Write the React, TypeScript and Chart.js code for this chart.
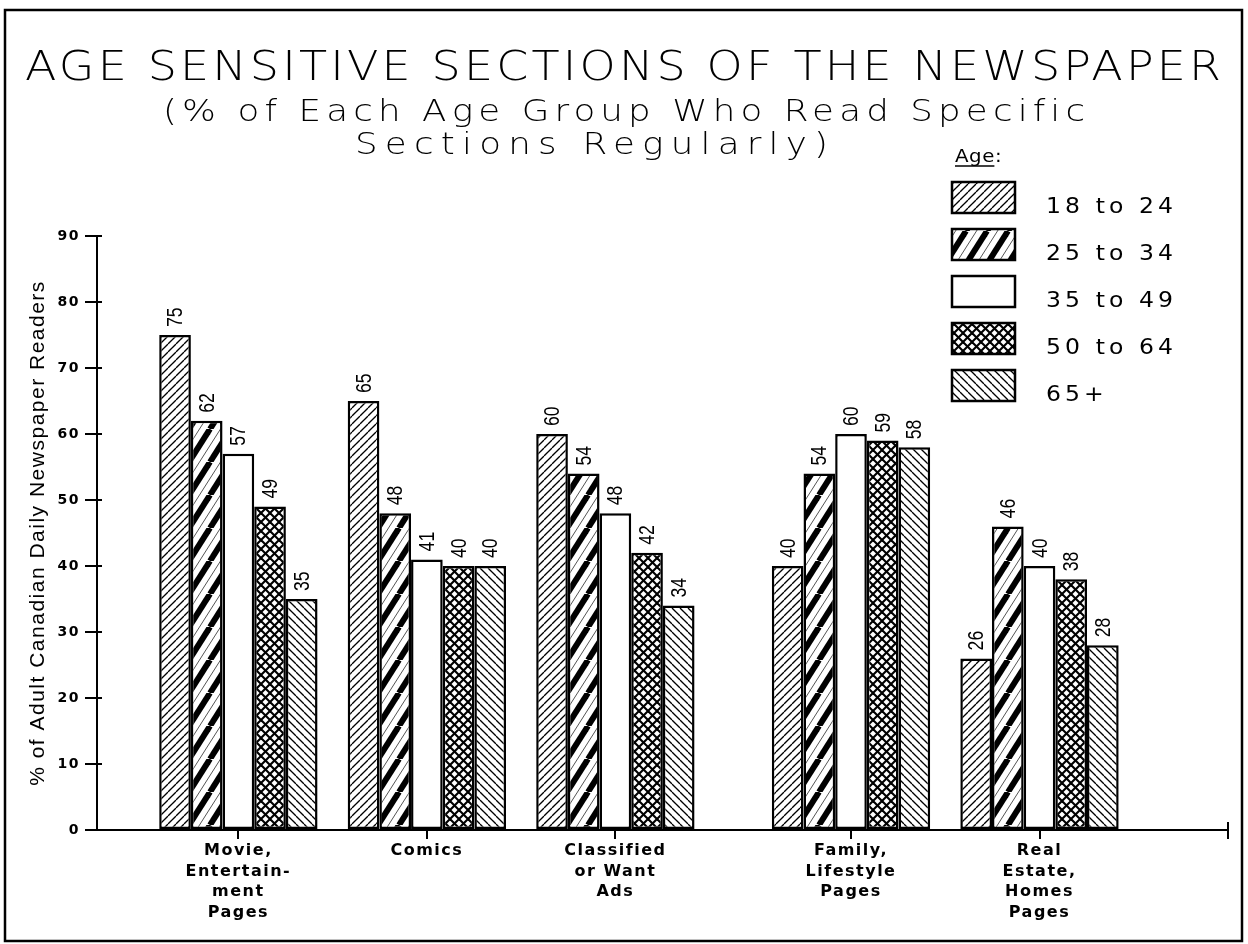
import React, { useEffect, useRef } from "react";
import { Chart, registerables } from "chart.js";

Chart.register(...registerables);

// ---------- data ----------
const categories: string[][] = [
  ["Movie,", "Entertain-", "ment", "Pages"],
  ["Comics"],
  ["Classified", "or Want", "Ads"],
  ["Family,", "Lifestyle", "Pages"],
  ["Real", "Estate,", "Homes", "Pages"],
];
const categoryPositions = [0.75, 1.75, 2.75, 4, 5];
const xAxisMax = 6;

const ageGroups = ["18 to 24", "25 to 34", "35 to 49", "50 to 64", "65+"];
const age18to24 = [75, 65, 60, 40, 26];
const age25to34 = [62, 48, 54, 54, 46];
const age35to49 = [57, 41, 48, 60, 40];
const age50to64 = [49, 40, 42, 59, 38];
const age65plus = [35, 40, 34, 58, 28];

const yMin = 0;
const yMax = 90;
const yStep = 10;

const titleText = "AGE SENSITIVE SECTIONS OF THE NEWSPAPER";
const subtitleLines = ["(% of Each Age Group Who Read Specific", "Sections Regularly)"];
const yAxisTitle = "% of Adult Canadian Daily Newspaper Readers";
const legendTitle = "Age:";

// ---------- patterns ----------
function makeTile(w: number, h: number, draw: (g: CanvasRenderingContext2D, w: number, h: number) => void) {
  const c = document.createElement("canvas");
  c.width = w;
  c.height = h;
  const g = c.getContext("2d")!;
  g.fillStyle = "#fff";
  g.fillRect(0, 0, w, h);
  draw(g, w, h);
  return g.createPattern(c, "repeat")!;
}

function diag(g: CanvasRenderingContext2D, w: number, h: number, lw: number, rising: boolean, color = "#000", off = 0) {
  g.strokeStyle = color;
  g.lineWidth = lw;
  for (let k = -1; k <= 1; k++) {
    g.beginPath();
    if (rising) {
      g.moveTo(k * w + off, h);
      g.lineTo(k * w + off + w, 0);
    } else {
      g.moveTo(k * w + off, 0);
      g.lineTo(k * w + off + w, h);
    }
    g.stroke();
  }
}

function makePatterns() {
  const p1 = makeTile(8, 8, (g, w, h) => diag(g, w, h, 1.3, true));
  const p2 = makeTile(21, 33, (g, w, h) => {
    diag(g, w, h, 6, true);
    diag(g, w, h, 1, true, "#555", w / 2);
  });
  const p3 = "#ffffff";
  const p4 = makeTile(9, 9, (g, w, h) => {
    diag(g, w, h, 2.1, true);
    diag(g, w, h, 2.1, false);
  });
  const p5 = makeTile(8, 8, (g, w, h) => diag(g, w, h, 1.3, false));
  return [p1, p2, p3, p4, p5];
}

// ---------- helpers ----------
function drawFitted(
  ctx: CanvasRenderingContext2D,
  text: string,
  cx: number,
  baseline: number,
  targetWidth: number,
  sx: number
) {
  (ctx as any).letterSpacing = "0px";
  const w = ctx.measureText(text).width;
  const n = text.length;
  const ls = n > 1 ? (targetWidth / sx - w) / (n - 1) : 0;
  ctx.save();
  ctx.translate(cx - targetWidth / 2, baseline);
  ctx.scale(sx, 1);
  (ctx as any).letterSpacing = ls + "px";
  ctx.textAlign = "left";
  ctx.textBaseline = "alphabetic";
  ctx.fillText(text, 0, 0);
  ctx.restore();
}

const seriesValues = [age18to24, age25to34, age35to49, age50to64, age65plus];

const decorPlugin = {
  id: "decor",
  beforeDraw(chart: any) {
    (chart.ctx as any).letterSpacing = "1.5px";
  },
  afterDatasetsDraw(chart: any) {
    const ctx: CanvasRenderingContext2D = chart.ctx;
    ctx.save();
    (ctx as any).letterSpacing = "0px";
    ctx.fillStyle = "#000";
    ctx.font = '22px "Liberation Sans", Arial, sans-serif';
    chart.data.datasets.forEach((ds: any, i: number) => {
      const meta = chart.getDatasetMeta(i);
      meta.data.forEach((el: any, j: number) => {
        const { x, y } = el.getProps(["x", "y"], true);
        ctx.save();
        ctx.translate(x + 1, y - 8);
        ctx.rotate(-Math.PI / 2);
        ctx.scale(0.8, 1);
        ctx.textAlign = "left";
        ctx.textBaseline = "middle";
        ctx.fillText(String(seriesValues[i][j]), 0, 0);
        ctx.restore();
      });
    });
    ctx.restore();
  },
  afterDraw(chart: any) {
    const ctx: CanvasRenderingContext2D = chart.ctx;
    const area = chart.chartArea;
    const yScale = chart.scales.y;
    ctx.save();
    ctx.fillStyle = "#000";
    ctx.strokeStyle = "#000";
    (ctx as any).letterSpacing = "0px";

    // inner tick stubs on the y axis and the closing tick of the x axis
    ctx.lineWidth = 2;
    ctx.beginPath();
    yScale.ticks.forEach((t: any) => {
      const py = yScale.getPixelForValue(t.value);
      ctx.moveTo(area.left, py);
      ctx.lineTo(area.left + 5, py);
    });
    ctx.moveTo(area.right, area.bottom);
    ctx.lineTo(area.right, area.bottom - 8);
    ctx.stroke();

    // frame
    ctx.lineWidth = 2.5;
    ctx.strokeRect(5, 10, 1237, 931);

    // title
    ctx.font = '200 40px "DejaVu Sans", sans-serif';
    drawFitted(ctx, titleText, 623, 80, 1196, 1.15);
    ctx.font = '200 31px "DejaVu Sans", sans-serif';
    drawFitted(ctx, subtitleLines[0], 624, 121, 922, 1.15);
    drawFitted(ctx, subtitleLines[1], 591.5, 154, 473, 1.15);

    // legend
    ctx.font = '18px "DejaVu Sans", sans-serif';
    ctx.save();
    ctx.translate(955, 162);
    ctx.scale(1.1, 1);
    (ctx as any).letterSpacing = "0.5px";
    ctx.textAlign = "left";
    ctx.textBaseline = "alphabetic";
    ctx.fillText(legendTitle, 0, 0);
    ctx.restore();
    (ctx as any).letterSpacing = "0px";
    const ageW = (ctx.measureText("Age").width + 1) * 1.1;
    ctx.lineWidth = 1.5;
    ctx.beginPath();
    ctx.moveTo(955, 166);
    ctx.lineTo(955 + ageW, 166);
    ctx.stroke();

    ctx.font = '21px "DejaVu Sans", sans-serif';
    const sx = 1.12;
    (ctx as any).letterSpacing = "0px";
    const refW = ctx.measureText(ageGroups[0]).width;
    const ls = (127 / sx - refW) / (ageGroups[0].length - 1);
    chart.data.datasets.forEach((ds: any, i: number) => {
      const top = 182 + i * 47;
      ctx.fillStyle = ds.backgroundColor;
      ctx.fillRect(952, top, 63, 31);
      ctx.lineWidth = 2.5;
      ctx.strokeStyle = "#000";
      ctx.strokeRect(952, top, 63, 31);
      ctx.fillStyle = "#000";
      ctx.save();
      ctx.translate(1046, top + 31);
      ctx.scale(sx, 1);
      (ctx as any).letterSpacing = ls + "px";
      ctx.textAlign = "left";
      ctx.fillText(ds.label, 0, 0);
      ctx.restore();
    });
    ctx.restore();
    (ctx as any).letterSpacing = "0px";
  },
};

export default function App() {
  const ref = useRef<HTMLCanvasElement>(null);

  useEffect(() => {
    if (!ref.current) return;
    const patterns = makePatterns();
    const datasets = ageGroups.map((label, i) => ({
      label,
      data: seriesValues[i].map((v, j) => ({ x: categoryPositions[j], y: v })),
      backgroundColor: patterns[i] as any,
      borderColor: "#000",
      borderWidth: 2.5,
      borderSkipped: false as any,
      categoryPercentage: 0.84,
      barPercentage: 1,
    }));

    const chart = new Chart(ref.current, {
      type: "bar",
      data: { datasets },
      plugins: [decorPlugin],
      options: {
        responsive: false,
        animation: false,
        devicePixelRatio: 1,
        layout: { padding: { top: 236, left: 18, right: 20, bottom: 0 } },
        plugins: {
          legend: { display: false },
          tooltip: { enabled: false },
          title: { display: false },
        },
        scales: {
          x: {
            type: "linear",
            min: 0,
            max: xAxisMax,
            offset: false,
            afterBuildTicks: (s: any) => {
              s.ticks = [...categoryPositions, xAxisMax].map((v) => ({ value: v }));
            },
            afterFit: (s: any) => {
              s.height = 944 - 830;
            },
            grid: {
              display: true,
              drawOnChartArea: false,
              drawTicks: true,
              tickLength: 9,
              color: "#000",
              lineWidth: 2,
              offset: false,
            },
            border: { display: true, color: "#000", width: 2 },
            ticks: {
              autoSkip: false,
              maxRotation: 0,
              minRotation: 0,
              padding: 2,
              color: "#000",
              font: { family: '"DejaVu Sans", sans-serif', weight: "bold", size: 16, lineHeight: 1.28 },
              callback: (v: any) => {
                const i = categoryPositions.indexOf(Number(v));
                return i >= 0 ? categories[i] : "";
              },
            },
          },
          y: {
            min: yMin,
            max: yMax,
            afterFit: (s: any) => {
              s.width = 79;
            },
            grid: {
              display: true,
              drawOnChartArea: false,
              tickLength: 12,
              color: "#000",
              lineWidth: 2,
            },
            border: { display: true, color: "#000", width: 2 },
            ticks: {
              stepSize: yStep,
              padding: 5,
              color: "#000",
              font: { family: '"DejaVu Sans", sans-serif', weight: "bold", size: 14 },
            },
            title: {
              display: true,
              text: yAxisTitle,
              color: "#000",
              font: { family: '"Liberation Sans", Arial, sans-serif', size: 21 },
              padding: { top: 8, bottom: 0 },
            },
          },
        },
      } as any,
    });
    return () => chart.destroy();
  }, []);

  return (
    <div style={{ position: "fixed", left: 0, top: 0, width: 1248, height: 944, background: "#fff" }}>
      <canvas ref={ref} width={1248} height={944} style={{ display: "block", width: 1248, height: 944 }} />
    </div>
  );
}
